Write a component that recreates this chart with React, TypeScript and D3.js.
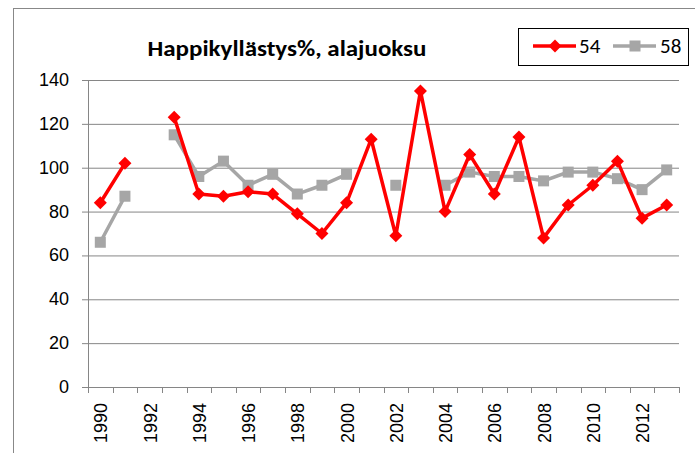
import React from 'react';
import * as d3 from 'd3';

const years = d3.range(1990, 2014);
const yTicks = [0, 20, 40, 60, 80, 100, 120, 140];
const title = 'Happikyllästys%, alajuoksu';

// null = no measurement that year
const s54: (number | null)[] = [
  84, 102, null, 123, 88, 87, 89, 88, 79, 70, 84, 113,
  69, 135, 80, 106, 88, 114, 68, 83, 92, 103, 77, 83,
];
const s58: (number | null)[] = [
  66, 87, null, 115, 96, 103, 92, 97, 88, 92, 97, null,
  92, null, 92, 98, 96, 96, 94, 98, 98, 95, 90, 99,
];

const W = 695;
const H = 453;
const dms = { left: 88, right: 679, top: 80, bottom: 387 };

const RED = '#ff0000';
const GRAY = '#a6a6a6';
const AXIS = '#868686';
const labelFont = '"Liberation Sans", Arial, sans-serif';
const calFont = 'Carlito, "Liberation Sans Narrow", "Liberation Sans", sans-serif';

const App = () => {
  const xScale = d3.scaleBand<number>().domain(years).range([dms.left, dms.right]);
  const yScale = d3.scaleLinear().domain([0, 140]).range([dms.bottom, dms.top]);
  const cx = (i: number) => (xScale(years[i]) as number) + xScale.bandwidth() / 2;

  const line = d3.line<number | null>()
    .defined((d) => d !== null)
    .x((_, i) => cx(i))
    .y((d) => yScale(d as number));

  const diamond = (s: number) => `M0,${-s}L${s},0L0,${s}L${-s},0Z`;

  return (
    <svg width={W} height={H} style={{ position: 'absolute', left: 0, top: 0, background: '#fff' }}>
      <rect x={13.5} y={8.5} width={W + 10} height={H + 10} fill="#fff" stroke="#888" strokeWidth={1} />

      <text
        x={287}
        y={56}
        textAnchor="middle"
        fontFamily={calFont}
        fontWeight="bold"
        fontSize={22}
        textLength={279}
        lengthAdjust="spacingAndGlyphs"
      >
        {title}
      </text>

      {/* gridlines + y axis */}
      {yTicks.map((v) => (
        <g key={v}>
          <line x1={dms.left - 6} x2={dms.right} y1={yScale(v) + 0.5} y2={yScale(v) + 0.5} stroke={AXIS} />
          <text
            x={69}
            y={yScale(v)}
            textAnchor="end"
            dominantBaseline="central"
            fontFamily={labelFont}
            fontSize={18}
          >
            {v}
          </text>
        </g>
      ))}
      <line x1={dms.left + 0.5} x2={dms.left + 0.5} y1={dms.top} y2={dms.bottom} stroke={AXIS} />

      {/* x ticks */}
      {d3.range(years.length + 1).map((i) => {
        const x = Math.round(dms.left + i * xScale.step()) + 0.5;
        return <line key={i} x1={x} x2={x} y1={dms.bottom} y2={dms.bottom + 6} stroke={AXIS} />;
      })}
      {years.filter((y) => y % 2 === 0).map((y) => {
        const x = (xScale(y) as number) + xScale.bandwidth() / 2;
        return (
          <text
            key={y}
            transform={`translate(${x + 1}, 403) rotate(-90)`}
            textAnchor="end"
            dominantBaseline="central"
            fontFamily={labelFont}
            fontSize={18}
          >
            {y}
          </text>
        );
      })}

      {/* series 58 */}
      <path d={line(s58) as string} fill="none" stroke={GRAY} strokeWidth={3.5} />
      {s58.map((v, i) => (v === null ? null : (
        <rect key={i} x={cx(i) - 5.5} y={yScale(v) - 5.5} width={11} height={11} fill={GRAY} />
      )))}

      {/* series 54 */}
      <path d={line(s54) as string} fill="none" stroke={RED} strokeWidth={3.5} strokeLinejoin="round" />
      {s54.map((v, i) => (v === null ? null : (
        <path key={i} d={diamond(6.5)} transform={`translate(${cx(i)}, ${yScale(v)})`} fill={RED} />
      )))}

      {/* legend */}
      <g>
        <rect x={518.5} y={28.5} width={170} height={37} fill="#fff" stroke="#000" strokeWidth={1} />
        <line x1={533} x2={576} y1={46} y2={46} stroke={RED} strokeWidth={3.5} />
        <path d={diamond(6.5)} transform="translate(555, 46)" fill={RED} />
        <text x={579} y={46} dominantBaseline="central" fontFamily={calFont} fontSize={21}>54</text>
        <line x1={613} x2={656} y1={46} y2={46} stroke={GRAY} strokeWidth={3.5} />
        <rect x={629.5} y={40.5} width={11} height={11} fill={GRAY} />
        <text x={660} y={46} dominantBaseline="central" fontFamily={calFont} fontSize={21}>58</text>
      </g>
    </svg>
  );
};

export default App;
